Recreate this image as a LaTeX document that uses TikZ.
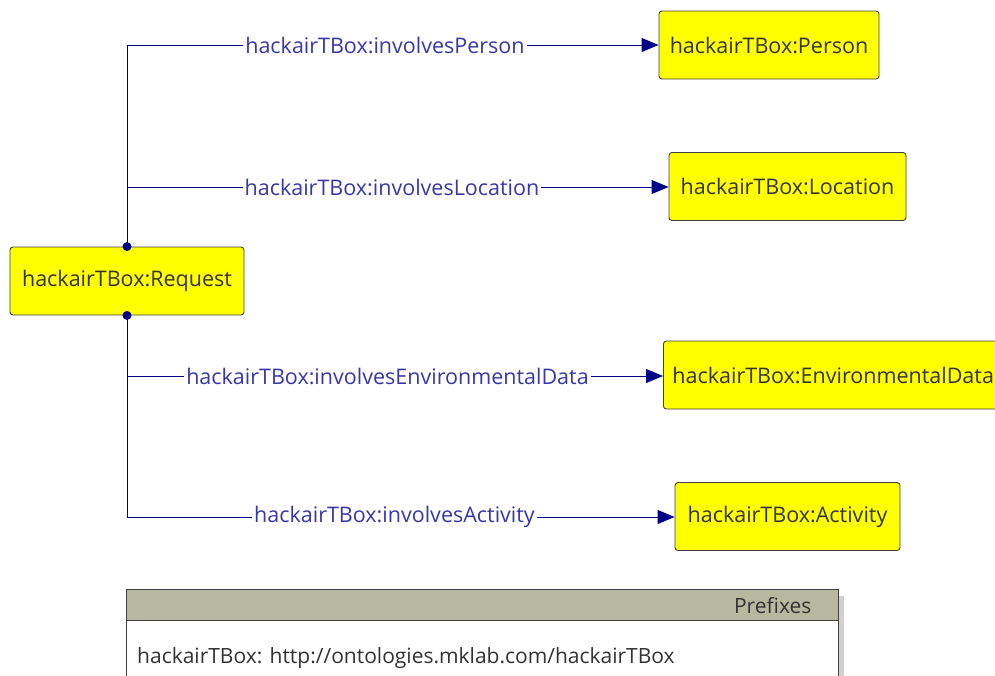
\documentclass[tikz,border=0pt]{standalone}
\usepackage{fontspec}
\setmainfont{Open Sans}
\usetikzlibrary{arrows.meta}
\definecolor{edgeblue}{HTML}{000088}
\definecolor{labelblue}{HTML}{3838A8}
\definecolor{nodeyellow}{HTML}{FFFF00}
\definecolor{headgrey}{HTML}{B8B8A0}
\definecolor{txt}{HTML}{333333}
\tikzset{
  cls/.style={draw=black!75, fill=nodeyellow, rounded corners=3pt, line width=0.9pt,
    text=txt, font=\fontsize{21.5}{24}\selectfont, minimum height=68pt, inner xsep=8pt},
  edge/.style={draw=edgeblue, line width=1pt},
  arr/.style={edge, -{Triangle[length=17pt,width=14pt]}},
  lbl/.style={fill=white, text=labelblue, font=\fontsize{21.5}{24}\selectfont, inner xsep=2pt, inner ysep=1pt},
  dot/.style={circle, fill=edgeblue, inner sep=0pt, minimum size=9pt}
}
\begin{document}
\begin{tikzpicture}[x=1pt,y=-1pt]
\useasboundingbox (0,0) rectangle (995,675);
\node[cls, minimum width=234pt] (req) at (127,281) {hackairTBox:Request};
\node[cls, minimum width=220pt] (per) at (769,45) {hackairTBox:Person};
\node[cls, minimum width=237pt] (loc) at (787.5,186.5) {hackairTBox:Location};
\node[cls, minimum width=340pt, anchor=west, align=left, text width=322pt] (env) at (663,375) {hackairTBox:EnvironmentalData};
\node[cls, minimum width=225pt] (act) at (787.5,516.5) {hackairTBox:Activity};
\coordinate (top) at (127,45);
\coordinate (j1) at (127,187);
\coordinate (j2) at (127,376);
\coordinate (bot) at (127,517);
\draw[edge] (req.north) -- (top);
\draw[edge] (req.south) -- (bot);
\draw[arr] (top) -- (per.west);
\draw[arr] (j1) -- (loc.west |- j1);
\draw[arr] (j2) -- (env.west |- j2);
\draw[arr] (bot) -- (act.west |- bot);
\node[dot] (d1) at (req.north) {};
\node[dot] (d2) at (req.south) {};
\node[lbl] (l1) at (385,45) {hackairTBox:involvesPerson};
\node[lbl] (l2) at (392,187) {hackairTBox:involvesLocation};
\node[lbl] (l3) at (387.5,376) {hackairTBox:involvesEnvironmentalData};
\node[lbl] (l4) at (394.5,517) {hackairTBox:involvesActivity};
% prefixes box
\fill[black!18] (838,596) rectangle (844,680);
\fill[white] (126,589) rectangle (838,680);
\fill[headgrey] (126,589) rectangle (838,620);
\draw[black!75, line width=1pt] (126,680) -- (126,589) -- (838,589) -- (838,680);
\draw[black!75, line width=0.8pt] (126,620) -- (838,620);
\node[anchor=east, text=txt, font=\fontsize{21}{24}\selectfont] (ph) at (815,606) {Prefixes};
\node[anchor=west, text=txt, font=\fontsize{21}{24}\selectfont, inner sep=0pt] (pt) at (137,658) {hackairTBox: http://ontologies.mklab.com/hackairTBox};
\end{tikzpicture}
\end{document}
